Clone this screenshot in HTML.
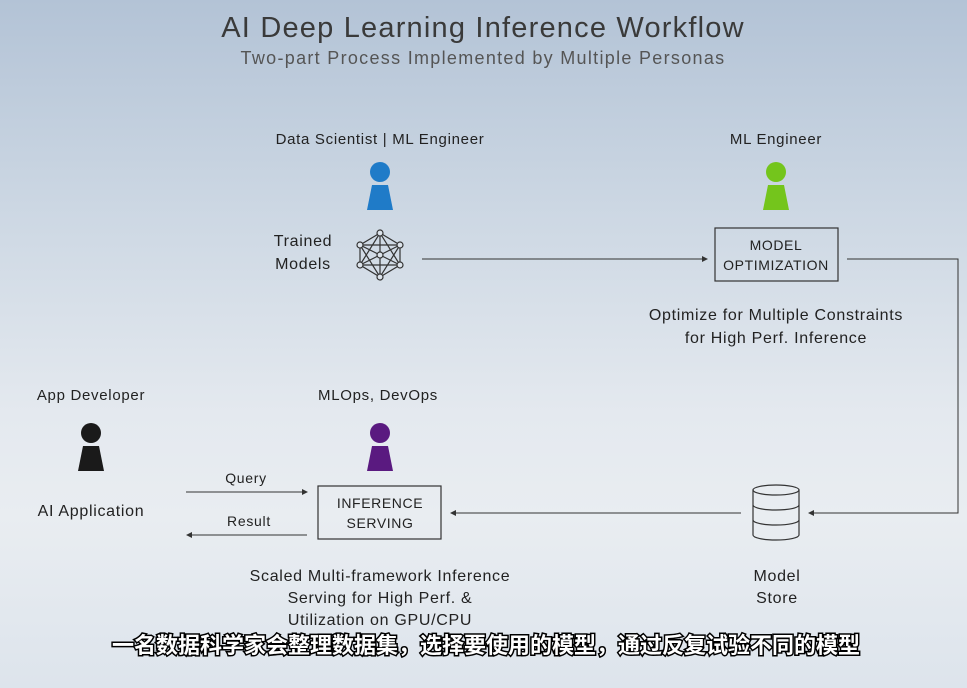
<!DOCTYPE html>
<html><head><meta charset="utf-8"><style>
html,body{margin:0;padding:0}
body{width:967px;height:688px;overflow:hidden;background:linear-gradient(180deg,#b3c3d6 0%,#ccd7e3 30%,#e4e9ef 60%,#e9edf1 75%,#dde4ec 100%);font-family:"Liberation Sans","Noto Sans CJK SC",sans-serif}
svg{position:absolute;left:0;top:0}
</style></head><body>
<svg width="967" height="688" viewBox="0 0 967 688" font-family="Liberation Sans, Noto Sans CJK SC, sans-serif">
<text x="483" y="37" text-anchor="middle" font-size="29" letter-spacing="1.2" fill="#3a3a3a">AI Deep Learning Inference Workflow</text>
<text x="483" y="64" text-anchor="middle" font-size="18" letter-spacing="1.3" fill="#555">Two-part Process Implemented by Multiple Personas</text>

<g font-size="15" fill="#222" letter-spacing="0.7">
<text x="380" y="144" text-anchor="middle">Data Scientist  |  ML Engineer</text>
<text x="776" y="144" text-anchor="middle">ML Engineer</text>
<text x="303" y="246" text-anchor="middle" font-size="16">Trained</text>
<text x="303" y="269" text-anchor="middle" font-size="16">Models</text>
<text x="776" y="320" text-anchor="middle" font-size="16">Optimize for Multiple Constraints</text>
<text x="776" y="343" text-anchor="middle" font-size="16">for High Perf. Inference</text>
<text x="91" y="400" text-anchor="middle">App Developer</text>
<text x="378" y="400" text-anchor="middle">MLOps, DevOps</text>
<text x="91" y="516" text-anchor="middle" font-size="16">AI Application</text>
<text x="246" y="483" text-anchor="middle" font-size="14">Query</text>
<text x="249" y="526" text-anchor="middle" font-size="14">Result</text>
<text x="380" y="581" text-anchor="middle" font-size="16">Scaled Multi-framework Inference</text>
<text x="380" y="603" text-anchor="middle" font-size="16">Serving for High Perf. &amp;</text>
<text x="380" y="625" text-anchor="middle" font-size="16">Utilization on GPU/CPU</text>
<text x="777" y="581" text-anchor="middle" font-size="16">Model</text>
<text x="777" y="603" text-anchor="middle" font-size="16">Store</text>
</g>

<g>
<circle cx="380" cy="172" r="10" fill="#1f7bc8"/><path d="M367 210 L372 185 L388 185 L393 210 Z" fill="#1f7bc8"/>
<circle cx="776" cy="172" r="10" fill="#74c51c"/><path d="M763 210 L768 185 L784 185 L789 210 Z" fill="#74c51c"/>
<circle cx="91" cy="433" r="10" fill="#1a1a1a"/><path d="M78 471 L83 446 L99 446 L104 471 Z" fill="#1a1a1a"/>
<circle cx="380" cy="433" r="10" fill="#5a1a80"/><path d="M367 471 L372 446 L388 446 L393 471 Z" fill="#5a1a80"/>
</g>

<g stroke="#333" stroke-width="1.2" fill="none">
<path d="M380 233 L360 245 L360 265 L380 277 L400 265 L400 245 Z"/>
<path d="M380 233 L380 277 M360 245 L400 265 M400 245 L360 265 M380 233 L360 265 M380 233 L400 265 M380 277 L360 245 M380 277 L400 245 M360 245 L400 245 M360 265 L400 265"/>
<g fill="#dde4ec"><circle cx="380" cy="233" r="3"/><circle cx="360" cy="245" r="3"/><circle cx="360" cy="265" r="3"/><circle cx="380" cy="277" r="3"/><circle cx="400" cy="245" r="3"/><circle cx="400" cy="265" r="3"/><circle cx="380" cy="255" r="3"/></g>
</g>

<rect x="715" y="228" width="123" height="53" fill="none" stroke="#333" stroke-width="1.2"/>
<text x="776" y="250" text-anchor="middle" font-size="14" letter-spacing="0.6" fill="#222">MODEL</text>
<text x="776" y="270" text-anchor="middle" font-size="14" letter-spacing="0.6" fill="#222">OPTIMIZATION</text>
<rect x="318" y="486" width="123" height="53" fill="none" stroke="#333" stroke-width="1.2"/>
<text x="380" y="508" text-anchor="middle" font-size="14" letter-spacing="0.6" fill="#222">INFERENCE</text>
<text x="380" y="528" text-anchor="middle" font-size="14" letter-spacing="0.6" fill="#222">SERVING</text>

<g stroke="#333" stroke-width="1.2" fill="none">
<ellipse cx="776" cy="490" rx="23" ry="5"/>
<path d="M753 490 V535 A23 5 0 0 0 799 535 V490"/>
<path d="M753 505 A23 5 0 0 0 799 505 M753 520 A23 5 0 0 0 799 520"/>
</g>

<g stroke="#333" stroke-width="1" fill="none">
<path d="M422 259 H704"/>
<path d="M847 259 H958 V513 H812"/>
<path d="M741 513 H455"/>
<path d="M186 492 H304"/>
<path d="M307 535 H190"/>
</g>
<g fill="#333">
<path d="M708 259 l-6 -3 v6 z"/>
<path d="M808 513 l6 -3 v6 z"/>
<path d="M450 513 l6 -3 v6 z"/>
<path d="M308 492 l-6 -3 v6 z"/>
<path d="M186 535 l6 -3 v6 z"/>
</g>

<text x="486" y="653" text-anchor="middle" font-size="22" font-weight="bold" fill="#fff" stroke="#000" stroke-width="3" paint-order="stroke" font-family="Noto Sans CJK SC, sans-serif">一名数据科学家会整理数据集，选择要使用的模型，通过反复试验不同的模型</text>
</svg>
</body></html>
